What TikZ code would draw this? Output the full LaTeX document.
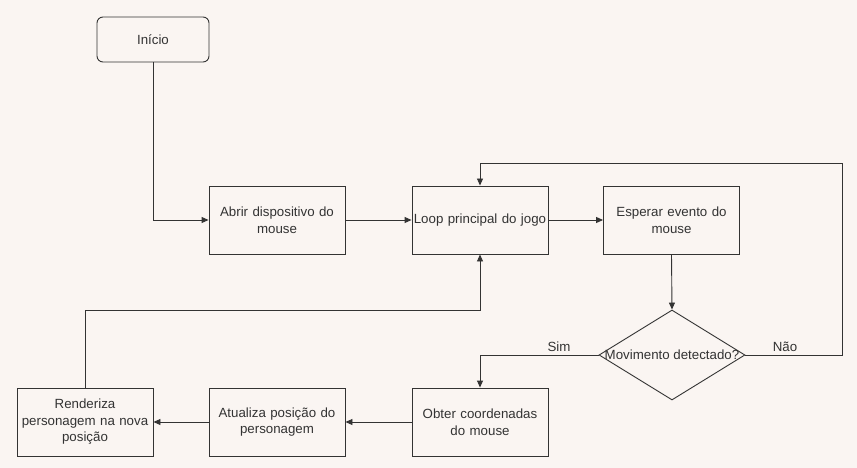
\documentclass[tikz,border=0pt]{standalone}
\usepackage{fontspec}
\setmainfont{Liberation Sans}
\usetikzlibrary{shapes.geometric,arrows.meta}
\definecolor{bg}{HTML}{FAF5F2}
\definecolor{ln}{HTML}{333333}
\begin{document}
\begin{tikzpicture}[x=1pt,y=-1pt,
  every node/.style={font=\fontsize{13.3}{16.5}\selectfont, text=ln},
  box/.style={draw=ln, line width=0.9pt, minimum width=136pt, minimum height=68pt, align=center, inner sep=1pt, text width=134pt},
  startbox/.style={box, rounded corners=6pt, minimum width=112pt, minimum height=45pt, text width=110pt},
  decbox/.style={draw=ln, line width=0.9pt, diamond, aspect=1.6, minimum width=146pt, minimum height=90pt, inner sep=0pt},
  conn/.style={draw=ln, line width=0.9pt, -{Triangle[length=7pt,width=6pt]}},
  lbl/.style={font=\fontsize{13.3}{16}\selectfont}]
\fill[bg] (0,0) rectangle (857,468);
\useasboundingbox (0,0) rectangle (857,468);
\node[startbox] (inicio) at (153,39.5) {Início};
\node[box] (abrir) at (277,220) {Abrir dispositivo do\\mouse};
\node[box] (loop) at (480,220) {Loop principal do jogo};
\node[box] (esperar) at (671.5,220) {Esperar evento do\\mouse};
\node[decbox] (dec) at (672,355) {};
\node at (dec.center) {Movimento detectado?};
\node[box] (obter) at (480,422) {Obter coordenadas\\do mouse};
\node[box] (atual) at (277,422) {Atualiza posição do\\personagem};
\node[box] (rend) at (85,422) {Renderiza\\personagem na nova\\posição};
\coordinate (cnao1) at (842,355);
\coordinate (cnao2) at (842,163);
\coordinate (cnao3) at (480,163);
\coordinate (csim) at (480,355);
\coordinate (cret1) at (85,310);
\coordinate (cret2) at (480,310);
\draw[conn] (inicio.south) |- (abrir.west);
\draw[conn] (abrir.east) -- (loop.west);
\draw[conn] (loop.east) -- (esperar.west);
\draw[conn] (esperar.south) -- (dec.north);
\draw[conn] (dec.east) -- (cnao1) -- (cnao2) -- (cnao3) -- (loop.north);
\draw[conn] (dec.west) -- (csim) -- (obter.north);
\draw[conn] (obter.west) -- (atual.east);
\draw[conn] (atual.west) -- (rend.east);
\draw[conn] (rend.north) -- (cret1) -- (cret2) -- (loop.south);
\node[lbl] (sim) at (559,347) {Sim};
\node[lbl] (nao) at (785,347) {Não};
\end{tikzpicture}
\end{document}
